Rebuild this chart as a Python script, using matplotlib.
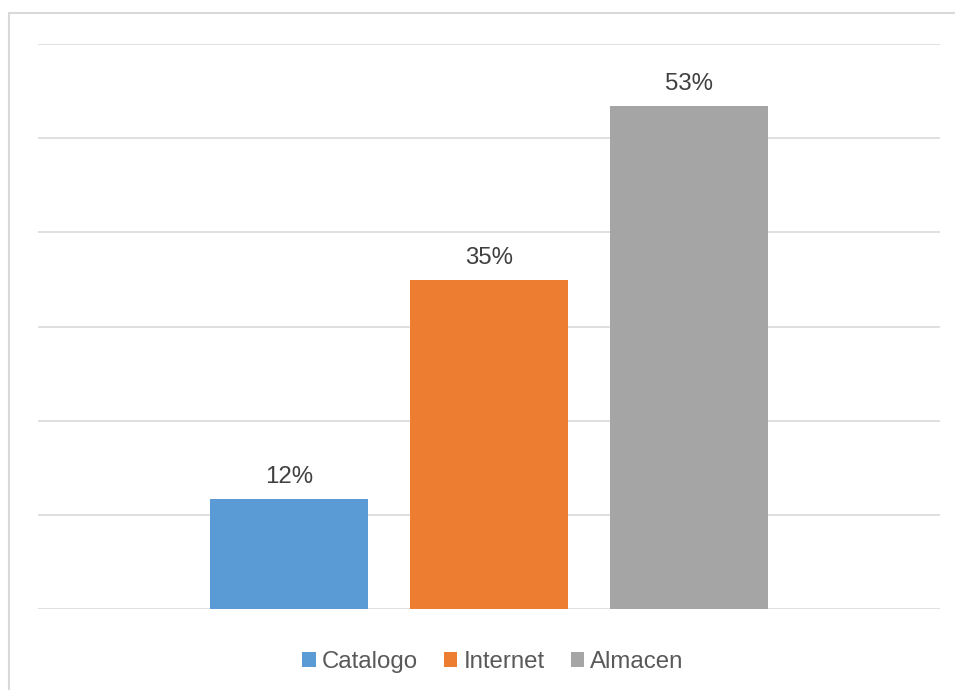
import matplotlib
matplotlib.use("Agg")
import matplotlib.pyplot as plt
from matplotlib.patches import Patch, Rectangle

categories = ["Catalogo", "Internet", "Almacen"]
values = [0.117, 0.349, 0.534]
labels = ["12%", "35%", "53%"]
colors = ["#5b9bd5", "#ed7d31", "#a5a5a5"]

plt.rcParams['font.family'] = ['Liberation Sans', 'DejaVu Sans']

W, H = 955, 690
fig = plt.figure(figsize=(W / 100, H / 100), dpi=100)
fig.patch.set_facecolor("white")

# outer chart frame (cropped at right/bottom)
fig.patches.append(Rectangle((8.5 / W, -0.1), 2.0, 1 - 13.5 / H + 0.1,
                             transform=fig.transFigure, fill=False,
                             edgecolor="#d9d9d9", linewidth=1.5))

ax = fig.add_axes([38 / W, 81 / H, (940 - 38) / W, (609 - 44) / H])
x = [-1, 0, 1]
bars = ax.bar(x, values, width=0.79, color=colors, zorder=3)
ax.set_xlim(-2.255, 2.255)
ax.set_ylim(0, 0.6)
ax.set_yticks([i / 10 for i in range(7)])
ax.yaxis.grid(True, color="#d9d9d9", linewidth=1.2, zorder=0)
ax.tick_params(left=False, bottom=False, labelleft=False, labelbottom=False)
for s in ax.spines.values():
    s.set_visible(False)

for xi, v, lab in zip(x, values, labels):
    ax.annotate(lab, (xi, v), xytext=(0, 16), textcoords="offset points",
                ha="center", va="center", fontsize=17.3, color="#404040")

handles = [Patch(facecolor=c, edgecolor="none") for c in colors]
fig.legend(handles, categories, loc="center", bbox_to_anchor=(493 / W, 1 - 662 / H),
           ncol=3, frameon=False, fontsize=17.3, handlelength=0.55, handleheight=0.55,
           handletextpad=0.25, columnspacing=1.1, labelcolor="#595959",
           borderaxespad=0, borderpad=0)

fig.savefig("out.png", dpi=100)
